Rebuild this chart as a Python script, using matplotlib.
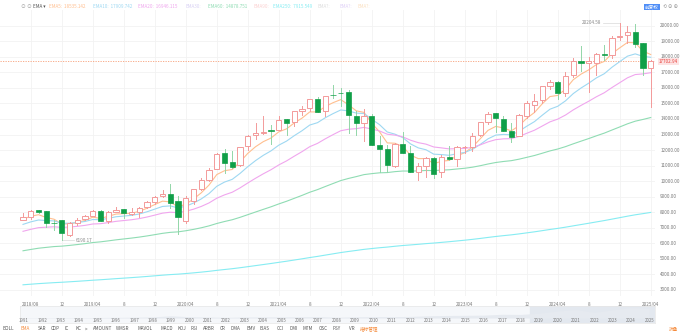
import numpy as np
import pandas as pd
import matplotlib
matplotlib.use("Agg")
import matplotlib.pyplot as plt
from matplotlib.patches import Rectangle

plt.rcParams['font.family'] = ['Noto Sans CJK SC', 'DejaVu Sans']

# monthly candles 2018/07 .. 2025/04
months = pd.period_range('2018-07', '2025-04', freq='M')
opens = [7525, 7682, 8115, 8050, 7340, 7487, 6507, 7290, 7550, 7766, 8100, 7410,
         8030, 8200, 7900, 8010, 8325, 8680, 9040, 9180, 8700, 7460, 8700, 9500,
         10100, 10800, 11800, 11250, 11050, 12250, 12958, 13100, 13300, 13300, 14000, 13790,
         14500, 14700, 15300, 14500, 15550, 15700, 15730, 14200, 13750, 14200, 12300, 12100,
         11000, 12400, 11800, 10600, 10990, 11500, 10562, 11573, 11450, 12200, 12200, 13000,
         13800, 14400, 14000, 13200, 12900, 14200, 14900, 15200, 16100, 16400, 15700, 16800,
         17700, 17600, 17600, 18200, 18100, 19300, 19400, 19600, 18900, 17250]
highs = [7933, 8133, 8133, 8107, 7487, 7487, 7400, 7600, 7849, 8176, 8164, 8100,
         8339, 8235, 8244, 8366, 8705, 9052, 9451, 9838, 9071, 9034, 9523, 10221,
         10840, 11829, 12074, 11965, 12226, 12973, 13728, 14175, 13620, 14211, 14000, 14536,
         14863, 15288, 15403, 15504, 16212, 16000, 15852, 14500, 14646, 14291, 12900, 12320,
         12487, 13181, 12270, 11200, 11571, 11571, 11682, 12269, 12272, 12269, 13100, 13829,
         14446, 14400, 14171, 13714, 14305, 15150, 15611, 16134, 16538, 16450, 17032, 17936,
         18671, 17978, 18236, 18785, 19366, 20204.58, 19954, 20119, 18900, 17768]
lows = [7500, 7594, 7921, 7050, 6831, 6190.17, 6457, 7213, 7487, 7766, 7429, 7293,
        8000, 7662, 7850, 7700, 8296, 8500, 8975, 8264, 6631, 7287, 8555, 9403,
        9985, 10800, 10519, 10822, 10980, 12000, 12690, 13003, 12397, 13300, 12985, 13580,
        14250, 14530, 14443, 14181, 15330, 14860, 13095, 13000, 12555, 12300, 10565, 10566,
        10900, 11800, 10573, 10089, 10263, 10207, 10265, 11357, 10983, 11796, 11963, 12900,
        13700, 13161, 13200, 12544, 12900, 14058, 14477, 15000, 15925, 15282, 15500, 16700,
        17100, 15708, 16800, 17800, 17900, 19100, 18900, 18600, 16855, 14784]
closes = [7672, 8110, 8046, 7306, 7331, 6635, 7282, 7533, 7729, 8095, 7453, 8006,
          8175, 7963, 7999, 8292, 8665, 8973, 9151, 8567, 7700, 8890, 9490, 10059,
          10745, 11775, 11168, 10912, 12199, 12888, 13071, 13192, 13247, 13962, 13749, 14504,
          14673, 15259, 14449, 15498, 15538, 15645, 14240, 13751, 14221, 12335, 12081, 11029,
          12391, 11816, 10576, 10988, 11468, 10466, 11585, 11456, 12222, 12227, 12935, 13788,
          14346, 14035, 13219, 12851, 14226, 15011, 15164, 16092, 16379, 15658, 16735, 17733,
          17599, 17714, 18189, 18095, 19218, 19311, 19627, 18847, 17299, 17702.94]

# EMA values just before the first visible candle
ema_spans = [5, 10, 20, 60, 250]
ema_seeds = [7500, 7120, 6680, 5450, 3300]
ema_colors = ['#ffbf8f', '#9ed8f2', '#f0a6ee', '#8fdcb3', '#86ecf2']
legend_vals = ['18535.142', '17909.742', '16946.115', '14878.751', '7915.549']

# navigator: yearly levels 1991..2025
nav_years = list(range(1991, 2026))
nav_vals = [586, 677, 777, 752, 1052, 1291, 1570, 2193, 4069, 2471, 1950, 1336, 2003,
            2175, 2205, 2415, 2652, 1577, 2269, 2653, 2605, 3020, 4177, 4736, 5007,
            5383, 6903, 6635, 8973, 12888, 15645, 10466, 15011, 19311, 17703]

indicators = ['BOLL', 'EMA', 'SAR', 'CDP', 'IC', 'KC', '>', 'AMOUNT', 'WMSR', 'MAVOL',
              'MACD', 'KDJ', 'RSI', 'ARBR', 'CR', 'DMA', 'EMV', 'BIAS', 'CCI', 'DMI',
              'MTM', 'OSC', 'PSY', 'VR', '指标管理']
ind_x = [8, 25, 42, 55, 67, 78, 86, 103, 123, 145, 167, 182, 194, 209, 223, 235, 251,
         265, 280, 294, 308, 323, 337, 352, 369]

W, H = 681, 334
fig = plt.figure(figsize=(W / 100, H / 100), dpi=100)


def px_axes(x0, y0, x1, y1):
    return fig.add_axes([x0 / W, 1 - y1 / H, (x1 - x0) / W, (y1 - y0) / H])


n = len(closes)
idx = np.arange(n)
ax = px_axes(0, 10, 655, 296)
ax.set_xlim(-2.97, 81.55)
ax.set_ylim(2614, 21010)
for s in ax.spines.values():
    s.set_visible(False)

# grid
for v in range(3000, 21000, 1000):
    ax.axhline(v, color='#f2f2f2', lw=0.6, zorder=0)
tick_pos = [i for i in idx if months[i].month in (4, 8, 12)]
for i in tick_pos:
    ax.axvline(i, color='#f2f2f2', lw=0.6, zorder=0)

# EMA lines
close_s = pd.Series(closes, dtype=float)
for span, seed, col in zip(ema_spans, ema_seeds, ema_colors):
    e = pd.concat([pd.Series([seed], dtype=float), close_s]).reset_index(drop=True)
    e = e.ewm(span=span, adjust=False).mean().iloc[1:].values
    ax.plot(idx, e, color=col, lw=0.8, zorder=2)

# candles
up_col = '#f39a9a'
dn_col = '#109f48'
dn_wick = '#92d6a8'
bw = 0.68
for i in idx:
    o, h, l, c = opens[i], highs[i], lows[i], closes[i]
    if c >= o:
        ax.plot([i, i], [l, o], color=up_col, lw=0.7, zorder=3)
        ax.plot([i, i], [c, h], color=up_col, lw=0.7, zorder=3)
        ax.add_patch(Rectangle((i - bw / 2, o), bw, c - o, facecolor='white',
                               edgecolor=up_col, lw=0.7, zorder=4))
    else:
        ax.plot([i, i], [l, h], color=dn_wick, lw=0.7, zorder=3)
        ax.add_patch(Rectangle((i - bw / 2, c), bw, o - c, facecolor=dn_col,
                               edgecolor=dn_col, lw=0.5, zorder=4))

# last price line
last = closes[-1]
ax.axhline(last, color='#f7a07a', lw=0.6, ls=(0, (1.5, 1.5)), zorder=1)

# max / min marks
imax = int(np.argmax(highs))
imin = int(np.argmin(lows))
ax.plot([imax - 2.2, imax], [highs[imax], highs[imax]], color='#d9d9d9', lw=0.5)
ax.text(imax - 2.4, highs[imax], '%.2f' % highs[imax], fontsize=3.3, color='#888888',
        ha='right', va='center')
ax.plot([imin, imin + 1.6], [lows[imin], lows[imin]], color='#d9d9d9', lw=0.5)
ax.text(imin + 1.8, lows[imin], '%.2f' % lows[imin], fontsize=3.3, color='#888888',
        ha='left', va='center')

# right axis labels
ax.set_xticks([])
ax.set_yticks([])
for v in range(3000, 21000, 1000):
    ax.text(1.008, v, '%.2f' % v, transform=ax.get_yaxis_transform(), fontsize=3.3,
            color='#777777', ha='left', va='center', clip_on=False)
ax.text(1.006, last, '%.2f' % last, transform=ax.get_yaxis_transform(), fontsize=3.3,
        color='#e8413c', ha='left', va='center', clip_on=False, zorder=5,
        bbox=dict(boxstyle='square,pad=0.25', fc='#fde3e3', ec='none'))

# x labels
for i in tick_pos:
    m = months[i]
    lab = '%d/%02d' % (m.year, m.month) if (m.month == 4 or i == tick_pos[0]) else str(m.month)
    ax.text(i, -0.022, lab, transform=ax.get_xaxis_transform(), fontsize=3.3,
            color='#777777', ha='center', va='top', clip_on=False)

# legend row
fig.text(21 / W, 1 - 7 / H, '⊙ ⊙', fontsize=3.5, color='#aaaaaa', va='center')
fig.text(33 / W, 1 - 7 / H, 'EMA ▾', fontsize=3.3, color='#555555', va='center')
lx = [49, 93, 138, 208, 273]
for x0, span, col, val in zip(lx, ema_spans, ema_colors, legend_vals):
    fig.text(x0 / W, 1 - 7 / H, 'EMA%d:  %s' % (span, val), fontsize=3.3,
             color=col, va='center')
for x0, lab, col in [(185, 'EMA30:', '#d8d0f4'), (253, 'EMA90:', '#fbd0d0'),
                     (318, 'EMA?:', '#dddddd'), (340, 'EMA?:', '#e0d0f8'),
                     (357, 'EMA?:', '#fbe0c0')]:
    fig.text(x0 / W, 1 - 7 / H, lab, fontsize=3.3, color=col, va='center')
fig.text(652 / W, 1 - 7 / H, '前复权', fontsize=3.3, color='white', va='center', ha='center',
         bbox=dict(boxstyle='square,pad=0.2', fc='#4f8ef7', ec='none'))
fig.text(671 / W, 1 - 7 / H, '⟲ ⊖ ⊕', fontsize=3.3, color='#999999', va='center', ha='center')

# navigator
nav = px_axes(20, 306, 655, 323)
nav.set_facecolor('#f5f7fa')
nav.set_xlim(1990.8, 2025.3)
nav.set_ylim(-9000, 22000)
nav.fill_between(nav_years, 0, nav_vals, color='#e6eaf0', lw=0)
nav.axvspan(2018.5, 2025.3, color='#e3e8ef', zorder=0)
for y in nav_years:
    nav.text(y, -4500, str(y), fontsize=3.1, color='#777777', ha='center', va='center')
nav.set_xticks([])
nav.set_yticks([])
for s in nav.spines.values():
    s.set_color('#e6e6e6')
    s.set_linewidth(0.5)

# indicator bar
for x0, lab in zip(ind_x, indicators):
    col = '#f58b3c' if lab in ('EMA', '指标管理') else '#555555'
    fig.text(x0 / W, 1 - 329 / H, lab, fontsize=3.3, color=col, ha='center', va='center')
fig.text(673 / W, 1 - 329 / H, '折叠', fontsize=3.3, color='#f58b3c', ha='center', va='center')

fig.savefig('out.png', dpi=100)
